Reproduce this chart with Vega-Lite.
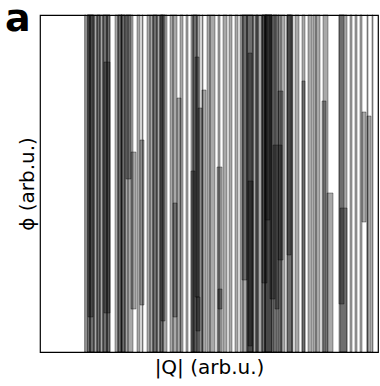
{
  "$schema": "https://vega.github.io/schema/vega-lite/v6.json",
  "autosize": "none",
  "width": 338,
  "height": 337,
  "padding": {"left": 40, "top": 15, "right": 2, "bottom": 34},
  "background": "white",
  "config": {
    "view": {"stroke": "#000", "strokeWidth": 1.2},
    "font": "DejaVu Sans"
  },
  "title": {
    "text": "a",
    "anchor": "start",
    "frame": "group",
    "fontSize": 38,
    "fontWeight": "bold",
    "font": "DejaVu Sans",
    "color": "#000",
    "baseline": "bottom",
    "offset": -62,
    "dx": -35
  },
  "data": {
    "values": [
      {"q0": 44.5, "q1": 46, "phi0": 0, "phi1": 337},
      {"q0": 47, "q1": 50, "phi0": 0, "phi1": 337},
      {"q0": 47, "q1": 50, "phi0": 0, "phi1": 337},
      {"q0": 50, "q1": 54, "phi0": 0, "phi1": 337},
      {"q0": 50, "q1": 54, "phi0": 0, "phi1": 337},
      {"q0": 54, "q1": 57, "phi0": 0, "phi1": 337},
      {"q0": 57, "q1": 60, "phi0": 0, "phi1": 337},
      {"q0": 57, "q1": 60, "phi0": 0, "phi1": 337},
      {"q0": 60, "q1": 63, "phi0": 0, "phi1": 337},
      {"q0": 63, "q1": 67, "phi0": 0, "phi1": 337},
      {"q0": 63, "q1": 67, "phi0": 0, "phi1": 337},
      {"q0": 67, "q1": 70, "phi0": 0, "phi1": 337},
      {"q0": 67, "q1": 70, "phi0": 0, "phi1": 337},
      {"q0": 75, "q1": 78, "phi0": 0, "phi1": 337},
      {"q0": 78, "q1": 82, "phi0": 0, "phi1": 337},
      {"q0": 78, "q1": 82, "phi0": 0, "phi1": 337},
      {"q0": 81, "q1": 85, "phi0": 0, "phi1": 337},
      {"q0": 81, "q1": 85, "phi0": 0, "phi1": 337},
      {"q0": 85, "q1": 88, "phi0": 0, "phi1": 337},
      {"q0": 88, "q1": 93, "phi0": 0, "phi1": 337},
      {"q0": 97, "q1": 100, "phi0": 0, "phi1": 337},
      {"q0": 102, "q1": 103, "phi0": 0, "phi1": 337},
      {"q0": 107, "q1": 110, "phi0": 0, "phi1": 337},
      {"q0": 110, "q1": 113, "phi0": 0, "phi1": 337},
      {"q0": 113, "q1": 117, "phi0": 0, "phi1": 337},
      {"q0": 113, "q1": 117, "phi0": 0, "phi1": 337},
      {"q0": 117, "q1": 120, "phi0": 0, "phi1": 337},
      {"q0": 120, "q1": 123, "phi0": 0, "phi1": 337},
      {"q0": 120, "q1": 123, "phi0": 0, "phi1": 337},
      {"q0": 123, "q1": 127, "phi0": 0, "phi1": 337},
      {"q0": 130, "q1": 133, "phi0": 0, "phi1": 337},
      {"q0": 133, "q1": 137, "phi0": 0, "phi1": 337},
      {"q0": 140, "q1": 143, "phi0": 0, "phi1": 337},
      {"q0": 146, "q1": 148, "phi0": 0, "phi1": 337},
      {"q0": 151, "q1": 153, "phi0": 0, "phi1": 337},
      {"q0": 153, "q1": 157, "phi0": 0, "phi1": 337},
      {"q0": 153, "q1": 157, "phi0": 0, "phi1": 337},
      {"q0": 157, "q1": 160, "phi0": 0, "phi1": 337},
      {"q0": 162, "q1": 163, "phi0": 0, "phi1": 337},
      {"q0": 167, "q1": 170, "phi0": 0, "phi1": 337},
      {"q0": 170, "q1": 175, "phi0": 0, "phi1": 337},
      {"q0": 178, "q1": 180, "phi0": 0, "phi1": 337},
      {"q0": 183, "q1": 187, "phi0": 0, "phi1": 337},
      {"q0": 189, "q1": 192, "phi0": 0, "phi1": 337},
      {"q0": 195, "q1": 198, "phi0": 0, "phi1": 337},
      {"q0": 200, "q1": 203, "phi0": 0, "phi1": 337},
      {"q0": 203, "q1": 207, "phi0": 0, "phi1": 337},
      {"q0": 207, "q1": 213, "phi0": 0, "phi1": 337},
      {"q0": 207, "q1": 213, "phi0": 0, "phi1": 337},
      {"q0": 213, "q1": 216, "phi0": 0, "phi1": 337},
      {"q0": 216, "q1": 218, "phi0": 0, "phi1": 337},
      {"q0": 216, "q1": 218, "phi0": 0, "phi1": 337},
      {"q0": 218, "q1": 222, "phi0": 0, "phi1": 337},
      {"q0": 222, "q1": 225, "phi0": 0, "phi1": 337},
      {"q0": 222, "q1": 225, "phi0": 0, "phi1": 337},
      {"q0": 225, "q1": 232, "phi0": 0, "phi1": 337},
      {"q0": 225, "q1": 232, "phi0": 0, "phi1": 337},
      {"q0": 225, "q1": 232, "phi0": 0, "phi1": 337},
      {"q0": 233, "q1": 237, "phi0": 0, "phi1": 337},
      {"q0": 238, "q1": 241, "phi0": 0, "phi1": 337},
      {"q0": 241, "q1": 245, "phi0": 0, "phi1": 337},
      {"q0": 247, "q1": 252, "phi0": 0, "phi1": 337},
      {"q0": 247, "q1": 252, "phi0": 0, "phi1": 337},
      {"q0": 252, "q1": 253, "phi0": 0, "phi1": 337},
      {"q0": 255, "q1": 259, "phi0": 0, "phi1": 337},
      {"q0": 262, "q1": 265, "phi0": 0, "phi1": 337},
      {"q0": 268, "q1": 272, "phi0": 0, "phi1": 337},
      {"q0": 273, "q1": 276, "phi0": 0, "phi1": 337},
      {"q0": 276, "q1": 280, "phi0": 0, "phi1": 337},
      {"q0": 283, "q1": 288, "phi0": 0, "phi1": 337},
      {"q0": 299, "q1": 307, "phi0": 0, "phi1": 337},
      {"q0": 310, "q1": 312, "phi0": 0, "phi1": 337},
      {"q0": 315, "q1": 317, "phi0": 0, "phi1": 337},
      {"q0": 320, "q1": 322, "phi0": 0, "phi1": 337},
      {"q0": 327, "q1": 328, "phi0": 0, "phi1": 337},
      {"q0": 332, "q1": 333, "phi0": 0, "phi1": 337},
      {"q0": 64, "q1": 70, "phi0": 39, "phi1": 290},
      {"q0": 48, "q1": 53, "phi0": 35, "phi1": 337},
      {"q0": 86, "q1": 91, "phi0": 173, "phi1": 337},
      {"q0": 91, "q1": 96, "phi0": 43, "phi1": 200},
      {"q0": 100, "q1": 104, "phi0": 47, "phi1": 212},
      {"q0": 133, "q1": 137, "phi0": 35, "phi1": 149},
      {"q0": 121, "q1": 125, "phi0": 31, "phi1": 337},
      {"q0": 137, "q1": 141, "phi0": 0, "phi1": 254},
      {"q0": 155, "q1": 159, "phi0": 55, "phi1": 295},
      {"q0": 156, "q1": 160, "phi0": 21, "phi1": 55},
      {"q0": 158, "q1": 162, "phi0": 0, "phi1": 244},
      {"q0": 151, "q1": 155, "phi0": 0, "phi1": 181},
      {"q0": 162, "q1": 166, "phi0": 0, "phi1": 262},
      {"q0": 177, "q1": 182, "phi0": 0, "phi1": 185},
      {"q0": 178, "q1": 182, "phi0": 43, "phi1": 63},
      {"q0": 208, "q1": 212, "phi0": 6, "phi1": 299},
      {"q0": 208, "q1": 213, "phi0": 0, "phi1": 171},
      {"q0": 202, "q1": 207, "phi0": 72, "phi1": 337},
      {"q0": 222, "q1": 227, "phi0": 69, "phi1": 337},
      {"q0": 225, "q1": 230, "phi0": 132, "phi1": 337},
      {"q0": 230, "q1": 235, "phi0": 53, "phi1": 337},
      {"q0": 235, "q1": 239, "phi0": 43, "phi1": 337},
      {"q0": 238, "q1": 243, "phi0": 92, "phi1": 261},
      {"q0": 233, "q1": 242, "phi0": 0, "phi1": 207},
      {"q0": 247, "q1": 251, "phi0": 97, "phi1": 337},
      {"q0": 262, "q1": 265, "phi0": 0, "phi1": 271},
      {"q0": 282, "q1": 286, "phi0": 0, "phi1": 251},
      {"q0": 287, "q1": 293, "phi0": 0, "phi1": 159},
      {"q0": 299, "q1": 304, "phi0": 48, "phi1": 337},
      {"q0": 300, "q1": 307, "phi0": 0, "phi1": 144},
      {"q0": 322, "q1": 326, "phi0": 130, "phi1": 240},
      {"q0": 327, "q1": 331, "phi0": 0, "phi1": 236}
    ]
  },
  "mark": {
    "type": "rect",
    "fill": "#000",
    "fillOpacity": 0.34,
    "stroke": "#000",
    "strokeOpacity": 0.5,
    "strokeWidth": 0.7
  },
  "encoding": {
    "x": {
      "field": "q0",
      "type": "quantitative",
      "scale": {"domain": [0, 338], "nice": false, "zero": false},
      "axis": {
        "title": "|Q| (arb.u.)",
        "titleFontSize": 20,
        "titleFontWeight": "normal",
        "titleFont": "DejaVu Sans",
        "titleColor": "#000",
        "titlePadding": 5,
        "labels": false,
        "ticks": false,
        "domain": false,
        "grid": false
      }
    },
    "x2": {"field": "q1"},
    "y": {
      "field": "phi0",
      "type": "quantitative",
      "scale": {"domain": [0, 337], "nice": false, "zero": false},
      "axis": {
        "title": "ϕ (arb.u.)",
        "titleFontSize": 20,
        "titleFontWeight": "normal",
        "titleFont": "DejaVu Sans",
        "titleColor": "#000",
        "titlePadding": 3,
        "labels": false,
        "ticks": false,
        "domain": false,
        "grid": false
      }
    },
    "y2": {"field": "phi1"}
  }
}
